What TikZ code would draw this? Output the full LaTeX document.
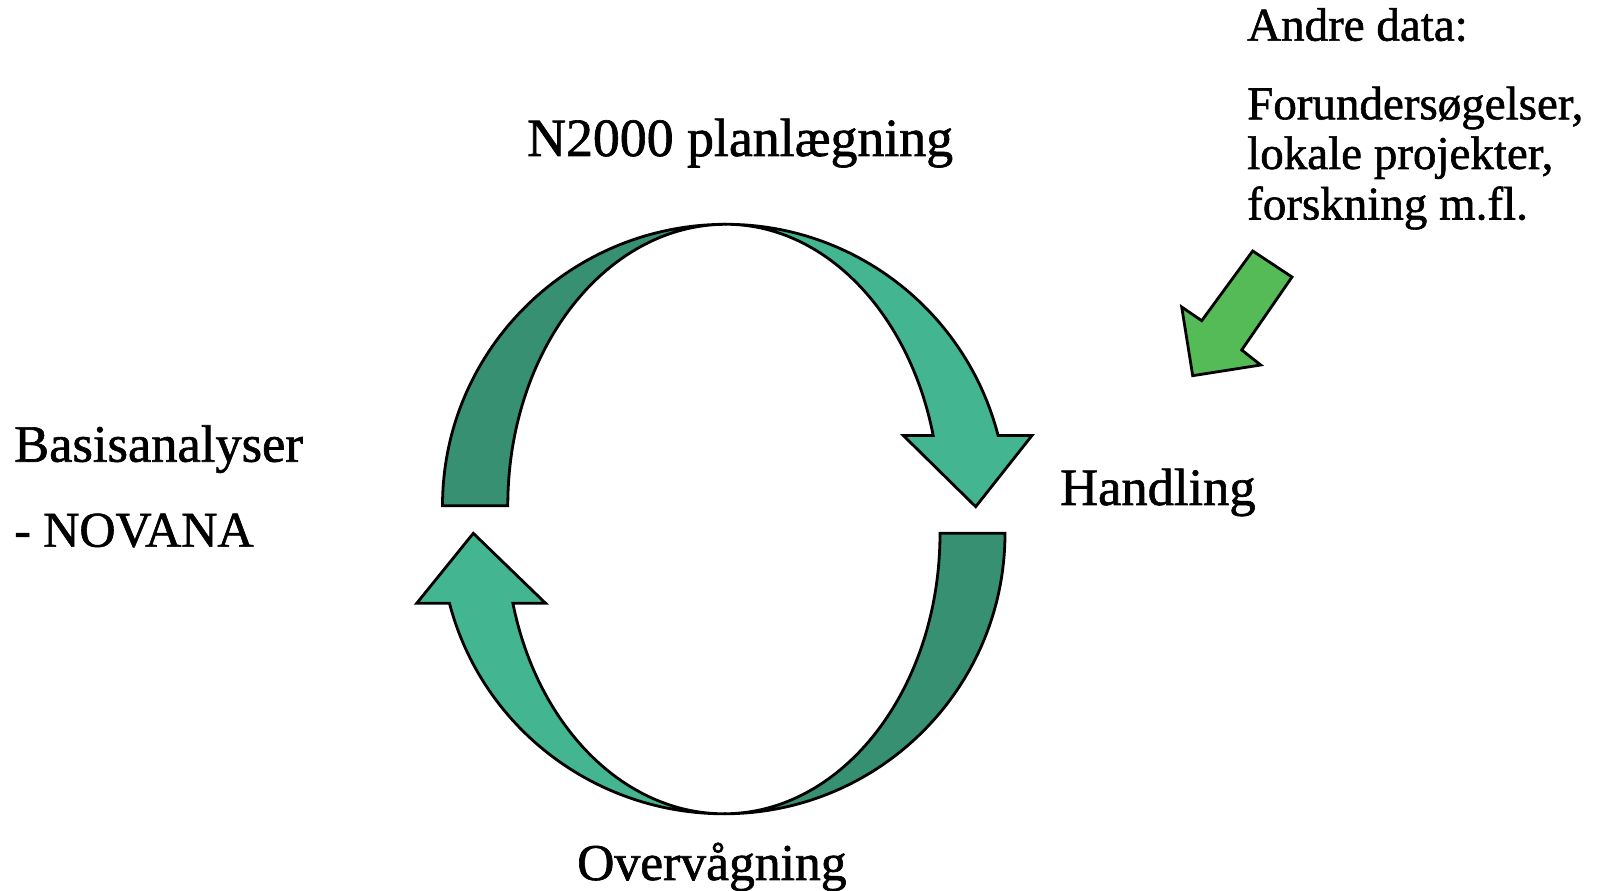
\documentclass[tikz,border=0pt]{standalone}
\usepackage{fontspec}
\setmainfont[FakeBold=1.2]{Liberation Serif}
\definecolor{darkband}{RGB}{54,144,113}
\definecolor{lightband}{RGB}{68,181,145}
\definecolor{greenarrow}{RGB}{84,187,87}
\begin{document}
\begin{tikzpicture}[x=1pt,y=1pt,
  band/.style={draw=black,line width=2.8pt,line join=miter},
  biglabel/.style={anchor=base west,inner sep=0pt,font=\fontsize{52.5}{60}\selectfont},
  smalllabel/.style={anchor=base west,inner sep=0pt,font=\fontsize{47}{51}\selectfont}]
\useasboundingbox (0,0) rectangle (1599,891);
% top-left dark band
\path[band,fill=darkband] (442.5,385.2) arc[start angle=180,end angle=90,x radius=283.5,y radius=281.5]
  arc[start angle=90,end angle=180,x radius=218.2,y radius=281.5] -- cycle;
% top-right light arrow
\path[band,fill=lightband] (726,666.7) arc[start angle=90,end angle=14.46,x radius=281,y radius=281.5]
  -- (1032,455.5) -- (975.7,384.3) -- (903.3,455.5) -- (933.2,455.5)
  arc[start angle=14.46,end angle=90,x radius=214,y radius=281.5] -- cycle;
% bottom-right dark band
\path[band,fill=darkband] (1005,357.7) arc[start angle=0,end angle=-90,x radius=281,y radius=280.5]
  arc[start angle=-90,end angle=0,x radius=216,y radius=280.5] -- cycle;
% bottom-left light arrow
\path[band,fill=lightband] (724,77.2) arc[start angle=-90,end angle=-165.55,x radius=283.5,y radius=280.5]
  -- (416.7,287.7) -- (473.3,357.7) -- (545.6,287.7) -- (512.9,287.7)
  arc[start angle=-165.55,end angle=-90,x radius=218,y radius=280.5] -- cycle;
% green input arrow
\path[band,fill=greenarrow] (1192.7,515.3) -- (1181.7,584) -- (1201.7,570.3) -- (1252.7,640)
  -- (1292,614) -- (1241.7,541) -- (1260.7,526) -- cycle;
% labels
\node[biglabel,font=\fontsize{53.8}{60}\selectfont] (plan) at (527,735) {N2000 planlægning};
\node[biglabel] (basis) at (14,429.3) {Basisanalyser};
\node[biglabel,font=\fontsize{50}{60}\selectfont] (novana) at (14,344.3) {- NOVANA};
\node[biglabel] (handling) at (1060,386) {Handling};
\node[biglabel,font=\fontsize{51.6}{60}\selectfont] (overv) at (577,11) {Overvågning};
\node[smalllabel] (andre) at (1247,850.3) {Andre data:};
\node[smalllabel] (forund) at (1247,771.7) {Forundersøgelser,};
\node[smalllabel] (lokale) at (1247,722) {lokale projekter,};
\node[smalllabel] (forsk) at (1247,671.5) {forskning m.fl.};
\end{tikzpicture}
\end{document}
